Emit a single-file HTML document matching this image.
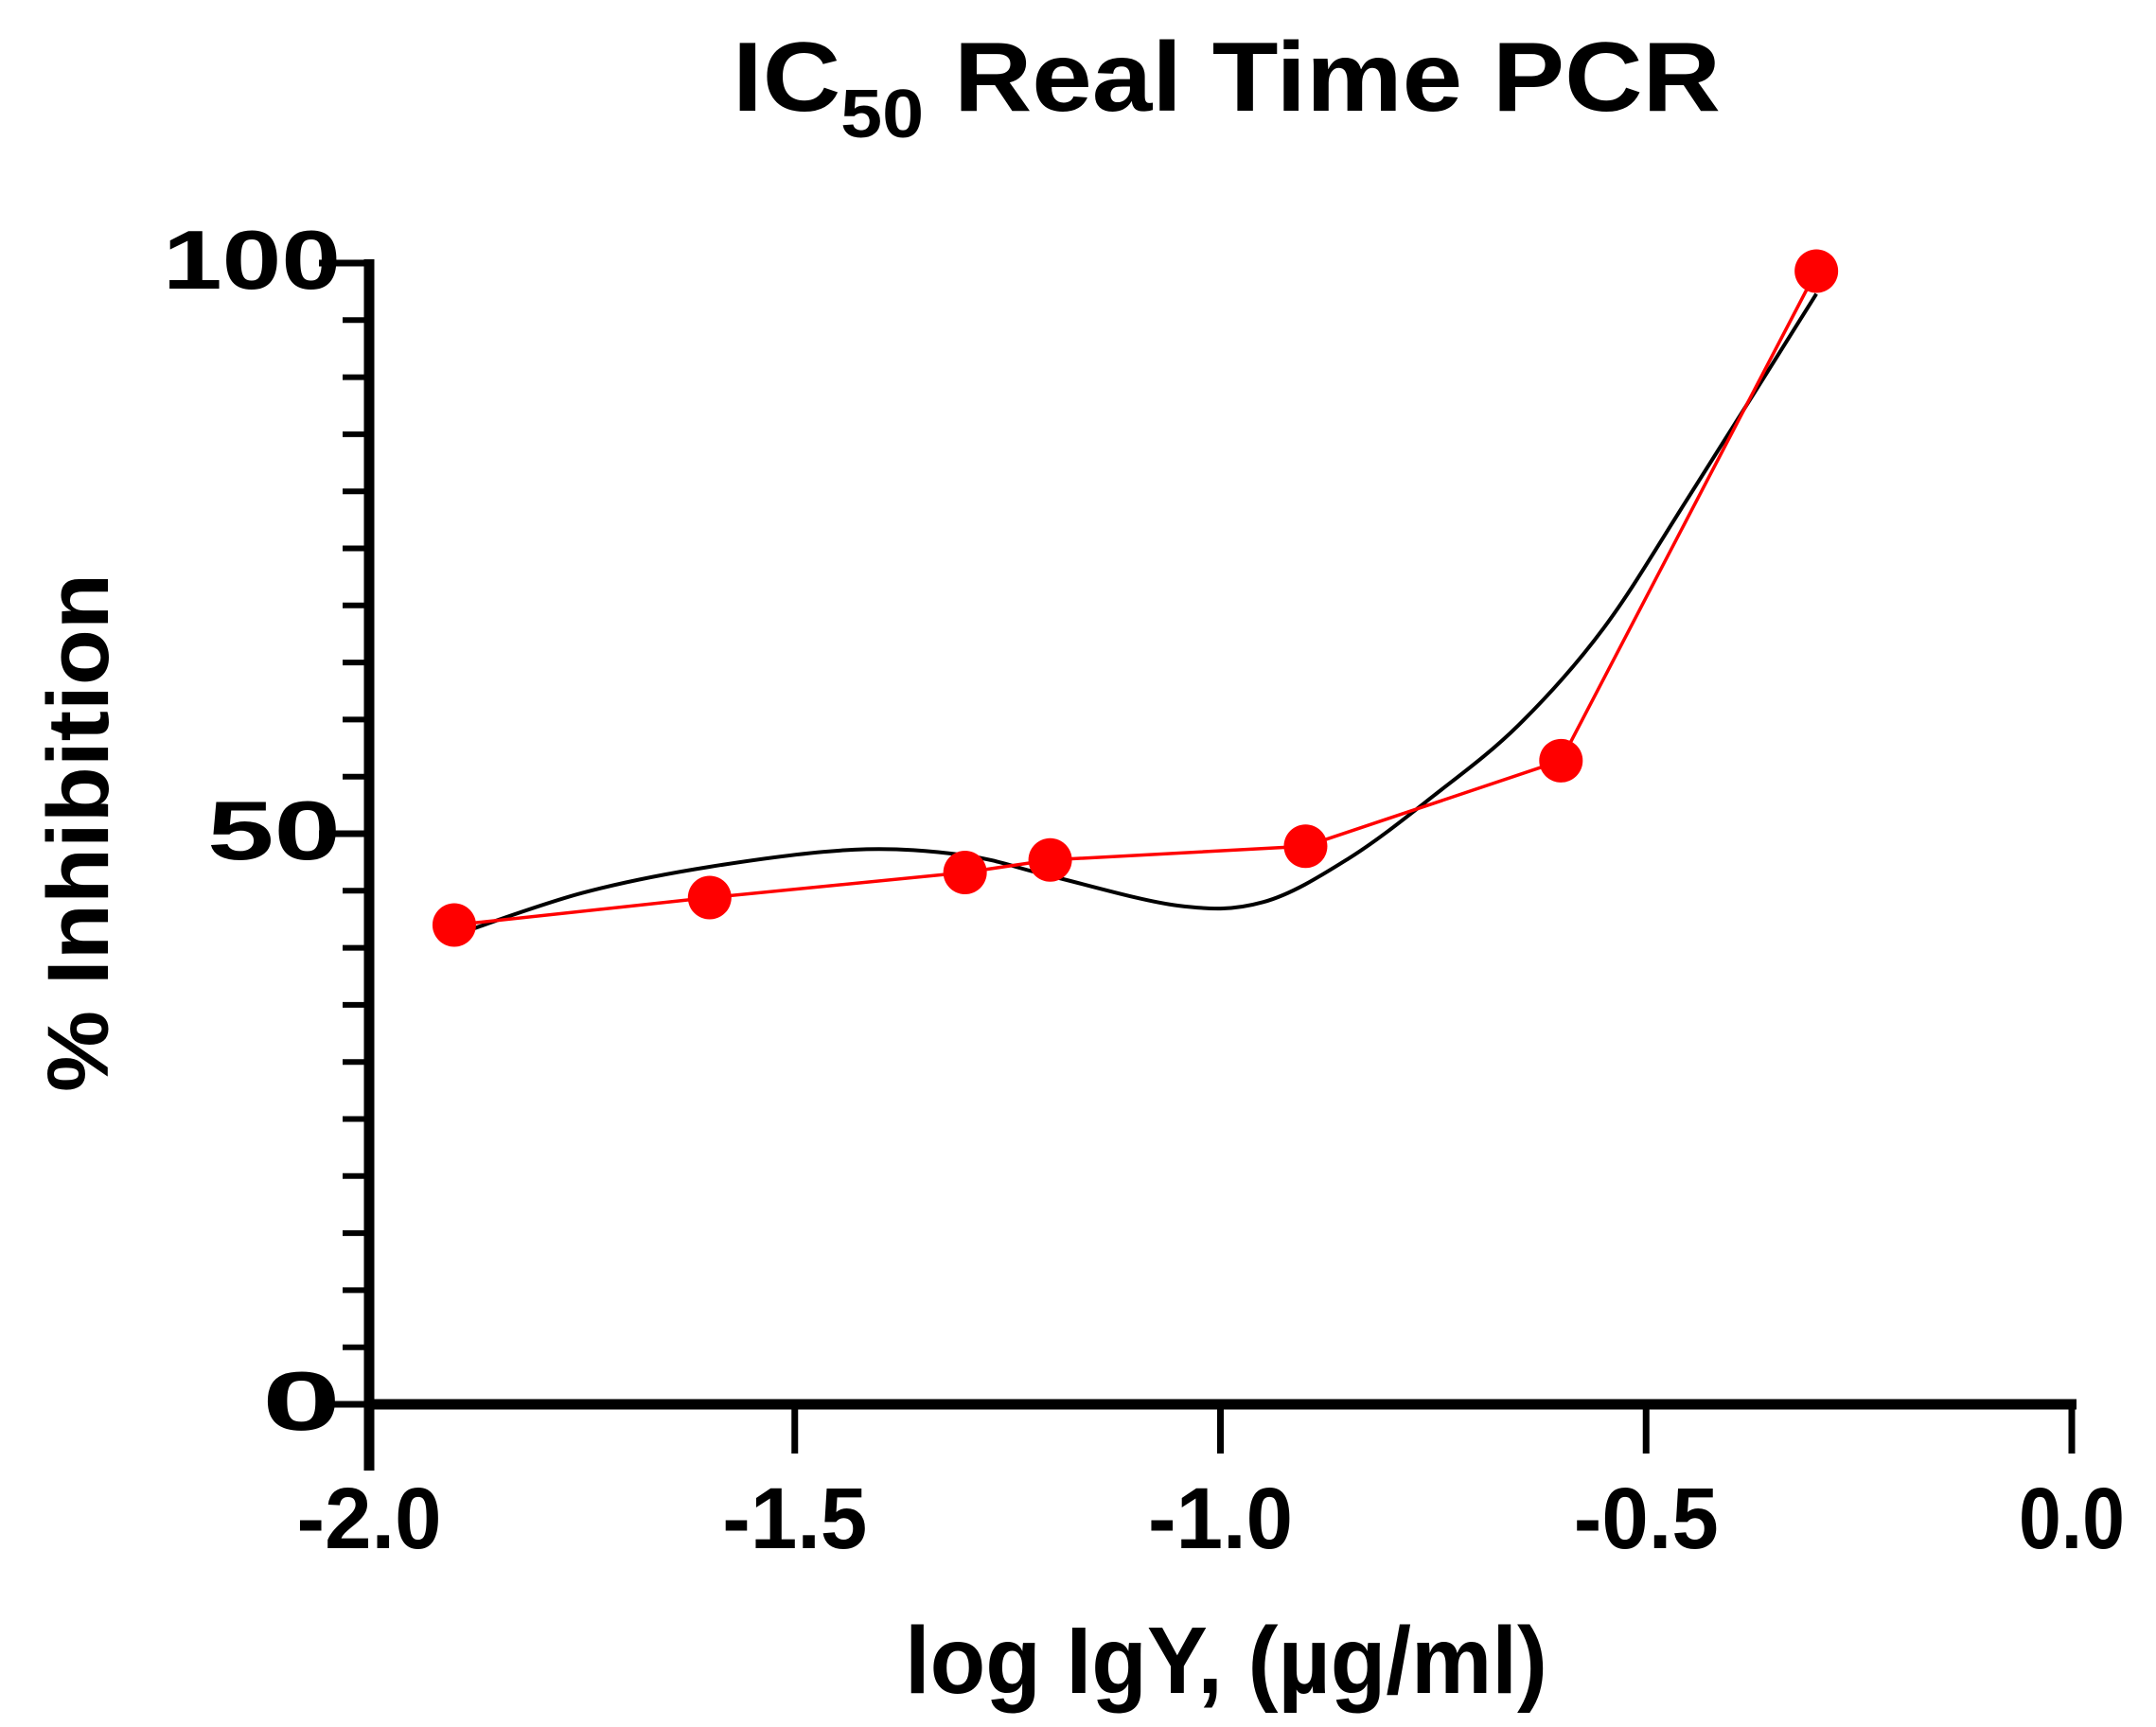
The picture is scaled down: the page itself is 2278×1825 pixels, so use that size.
<!DOCTYPE html>
<html><head><meta charset="utf-8"><style>
html,body{margin:0;padding:0;background:#fff;}
svg{display:block;}
text{font-family:"Liberation Sans",Arial,sans-serif;font-weight:bold;fill:#000;}
</style></head><body>
<svg id="chart" width="2278" height="1825" viewBox="0 0 2278 1825" xmlns="http://www.w3.org/2000/svg">
<text x="774" y="117" font-size="104" textLength="1044" lengthAdjust="spacingAndGlyphs">IC<tspan font-size="72" dy="28">50</tspan><tspan dy="-28"> Real Time PCR</tspan></text>
<text x="956" y="1789" font-size="100" textLength="679" lengthAdjust="spacingAndGlyphs">log IgY, (µg/ml)</text>
<text transform="translate(114,880) rotate(-90)" text-anchor="middle" font-size="92" textLength="548" lengthAdjust="spacingAndGlyphs">% Inhibition</text>
<g id="axes"></g>
<g id="marks"></g>
</svg>
<script>
const xTicks = [-2.0, -1.5, -1.0, -0.5, 0.0];
const xTickLabels = ["-2.0", "-1.5", "-1.0", "-0.5", "0.0"];
const yTicks = [0, 50, 100];
const yTickLabels = ["0", "50", "100"];
const dataX = [-1.9, -1.6, -1.3, -1.2, -0.9, -0.6, -0.3];
const dataY = [42.0, 44.4, 46.6, 47.7, 48.9, 56.4, 99.3];
const fitX = [-1.9, -1.75, -1.6, -1.43, -1.3, -1.2, -1.05, -0.95, -0.85, -0.75, -0.65, -0.55, -0.45, -0.3];
const fitY = [41.1, 44.8, 47.1, 48.6, 48.1, 46.3, 43.7, 44.0, 47.8, 53.3, 59.5, 68.0, 79.5, 97.3];

const NS = "http://www.w3.org/2000/svg";
const X0 = 390, X1 = 2189, Y0 = 1484, Y1 = 278;
function sx(v){ return X0 + (v - (-2)) / 2 * (X1 - X0); }
function sy(v){ return Y0 - v / 100 * (Y0 - Y1); }
function mk(tag, attrs, parent){
  const e = document.createElementNS(NS, tag);
  for (const k in attrs) e.setAttribute(k, attrs[k]);
  parent.appendChild(e); return e;
}
const axes = document.getElementById('axes');
const marks = document.getElementById('marks');

const ya = mk('line', {x1:X0, y1:Y1-4, x2:X0, y2:Y0+70, stroke:'#000', 'stroke-width':11}, axes);


const xa = mk('line', {x1:X0-5, y1:Y0, x2:X1+5, y2:Y0, stroke:'#000', 'stroke-width':11}, axes);



for (let v = 5; v < 100; v += 5) {
  if (v === 50) continue;
  const t = mk('line', {x1:362, y1:sy(v), x2:X0, y2:sy(v), stroke:'#000', 'stroke-width':6}, axes);
  
  
}
const yLabelLen = {"0":83, "50":141, "100":188};
yTicks.forEach((v, i) => {
  const t = mk('line', {x1:337, y1:sy(v), x2:X0, y2:sy(v), stroke:'#000', 'stroke-width':7}, axes);
  
  
  const by = sy(v) + 27;
  const tx = mk('text', {x:0, y:0, 'text-anchor':'end', 'font-size':88}, axes);
  tx.textContent = yTickLabels[i];
  let w = 0;
  try { w = tx.getComputedTextLength(); } catch(e) {}
  if (!w) w = yTickLabels[i].length * 0.556 * 88;
  const k = yLabelLen[yTickLabels[i]] / w;
  tx.setAttribute('transform', 'translate(360,' + by + ') scale(' + k + ',1)');
  
  
});
xTicks.forEach((v, i) => {
  const t = mk('line', {x1:sx(v), y1:Y0, x2:sx(v), y2:1536, stroke:'#000', 'stroke-width':7}, axes);
  
  
  const tx = mk('text', {x:sx(v), y:1636, 'text-anchor':'middle', 'font-size':92, textLength:(xTickLabels[i].length === 3 ? 112 : 153), lengthAdjust:'spacingAndGlyphs'}, axes);
  tx.textContent = xTickLabels[i];
  
  
});

const P = fitX.map((x, i) => [sx(x), sy(fitY[i])]);
let d = 'M' + P[0][0] + ',' + P[0][1];
for (let i = 0; i < P.length - 1; i++) {
  const p0 = P[Math.max(0, i-1)], p1 = P[i], p2 = P[i+1], p3 = P[Math.min(P.length-1, i+2)];
  const c1 = [p1[0] + (p2[0]-p0[0])/6, p1[1] + (p2[1]-p0[1])/6];
  const c2 = [p2[0] - (p3[0]-p1[0])/6, p2[1] - (p3[1]-p1[1])/6];
  d += ' C' + c1.join(',') + ' ' + c2.join(',') + ' ' + p2.join(',');
}
const fit = mk('path', {d:d, fill:'none', stroke:'#000', 'stroke-width':4}, marks);



const pts = dataX.map((x, i) => sx(x) + ',' + sy(dataY[i])).join(' ');
const dl = mk('polyline', {points:pts, fill:'none', stroke:'#f00', 'stroke-width':3.5}, marks);


dataX.forEach((x, i) => {
  const c = mk('circle', {cx:sx(x), cy:sy(dataY[i]), r:23, fill:'#f00'}, marks);
  
  
});
</script>
</body></html>
